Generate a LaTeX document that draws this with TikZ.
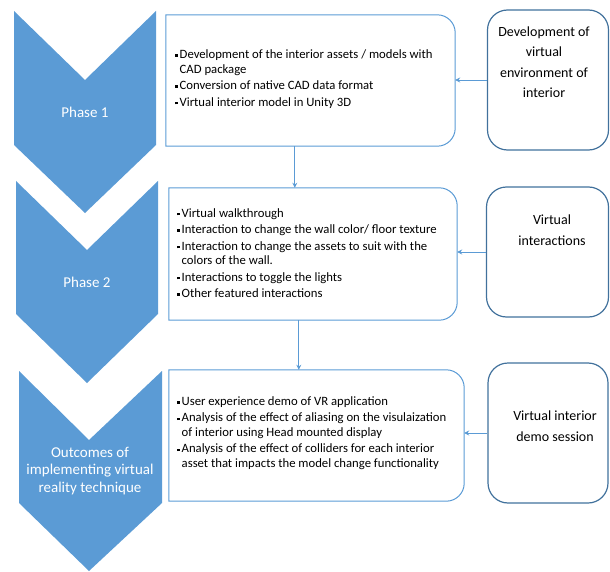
\documentclass[tikz,border=0pt]{standalone}
\usepackage{fontspec}
\setmainfont{Carlito}
\usepackage{xcolor}
\usepackage{tikz}
\usetikzlibrary{arrows.meta}

\definecolor{chevblue}{HTML}{5B9BD5}
\definecolor{edgeblue}{HTML}{41719C}

% bullet and hanging indent for the list lines
\newcommand{\bul}{\makebox[4.5pt][l]{\rule[0.3ex]{2.5pt}{2.5pt}}}
\newcommand{\ind}{\hspace*{4.5pt}}

% frame with rounded corners on the right side only
\newcommand{\midframe}[1]{%
  \draw[chevblue, line width=1pt] (#1.south west) -- (#1.north west)
    -- ([xshift=-18pt]#1.north east) arc[start angle=90, end angle=0, radius=18pt]
    -- ([yshift=18pt]#1.south east) arc[start angle=0, end angle=-90, radius=18pt]
    -- cycle;}

\begin{document}
\begin{tikzpicture}[x=1pt, y=-1pt,
    phasetext/.style={text=white, align=center, inner sep=0pt,
      font=\fontsize{15}{17.5}\selectfont},
    midbox/.style={inner sep=0pt},
    midtext/.style={anchor=west, align=left, inner sep=0pt,
      font=\fontsize{12.7}{14.5}\selectfont},
    sidebox/.style={draw=edgeblue, line width=1.2pt, rounded corners=20pt, inner sep=0pt},
    sidetext/.style={align=center, inner sep=0pt,
      font=\fontsize{14}{20.5}\selectfont},
    link/.style={chevblue, line width=0.9pt, -{Stealth[length=5pt, width=5pt]}}]

    \useasboundingbox (0,0) rectangle (610,572);

    % Chevrons
    \fill[chevblue] (14,11) -- (85,80) -- (156,11) -- (156,145) -- (85,213) -- (14,145) -- cycle;
    \fill[chevblue] (16,181) -- (87,250) -- (158,181) -- (158,314) -- (87,383) -- (16,314) -- cycle;
    \fill[chevblue] (19,371) -- (89,440) -- (162,371) -- (162,503) -- (89,571) -- (19,503) -- cycle;

    \node[phasetext] (ph1) at (85,112) {Phase 1};
    \node[phasetext] (ph2) at (87,282) {Phase 2};
    \node[phasetext] (ph3) at (90,471) {Outcomes of\\implementing virtual\\reality technique};

    % Middle boxes
    \node[midbox, minimum width=289pt, minimum height=131pt] (b1) at (310.5,80.5) {};
    \node[midbox, minimum width=288pt, minimum height=132pt] (b2) at (313,254) {};
    \node[midbox, minimum width=295pt, minimum height=131pt] (b3) at (316.5,435.5) {};
    \midframe{b1}
    \midframe{b2}
    \midframe{b3}

    \node[midtext] (t1) at (175,79) {\bul Development of the interior assets / models with\\
      \ind CAD package\\[2pt]
      \bul Conversion of native CAD data format\\[2pt]
      \bul Virtual interior model in Unity 3D};
    \node[midtext] (t2) at (177,253) {\bul Virtual walkthrough\\[2pt]
      \bul Interaction to change the wall color/ floor texture\\[2pt]
      \bul Interaction to change the assets to suit with the\\
      \ind colors of the wall.\\[2pt]
      \bul Interactions to toggle the lights\\[2pt]
      \bul Other featured interactions};
    \node[midtext] (t3) at (177,433) {\bul User experience demo of VR application\\[2pt]
      \bul Analysis of the effect of aliasing on the visulaization\\
      \ind of interior using Head mounted display\\[2pt]
      \bul Analysis of the effect of colliders for each interior\\
      \ind asset that impacts the model change functionality};

    % Side boxes
    \node[sidebox, minimum width=121pt, minimum height=140pt] (r1) at (548,80) {};
    \node[sidebox, minimum width=122pt, minimum height=130pt] (r2) at (547.5,252) {};
    \node[sidebox, minimum width=120pt, minimum height=140pt] (r3) at (548,433) {};

    \node[sidetext] (s1) at (544,62) {Development of\\virtual\\environment of\\interior};
    \node[sidetext] (s2) at (552,230) {Virtual\\interactions};
    \node[sidetext] (s3) at (555,426) {Virtual interior\\demo session};

    % Connectors
    \draw[link] (r1.west) -- (r1.west -| b1.east);
    \draw[link] (r2.west) -- (r2.west -| b2.east);
    \draw[link] (r3.west) -- (r3.west -| b3.east);
    \draw[link] ([xshift=129pt]b1.south west) -- ([xshift=129pt]b1.south west |- b2.north);
    \draw[link] ([xshift=130pt]b2.south west) -- ([xshift=130pt]b2.south west |- b3.north);

\end{tikzpicture}
\end{document}
